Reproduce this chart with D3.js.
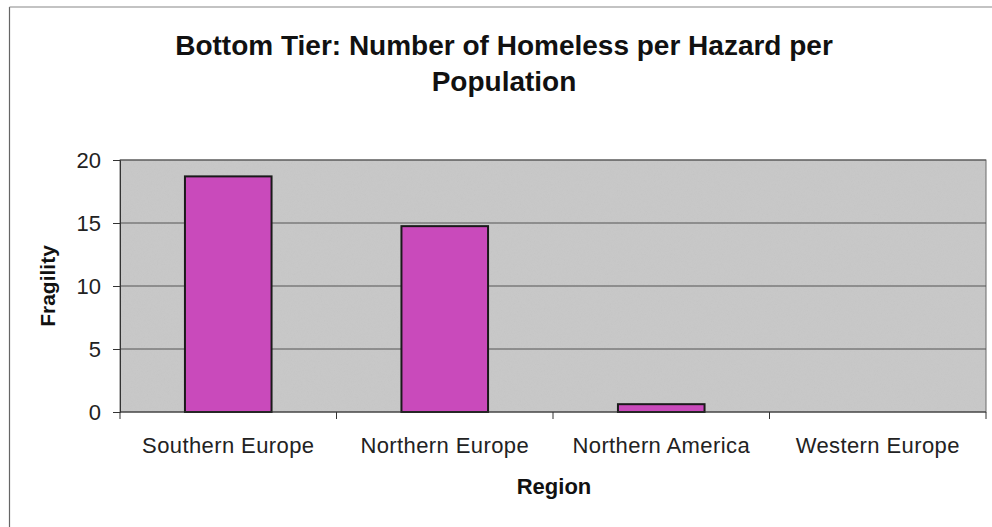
<!DOCTYPE html>
<html>
<head>
<meta charset="utf-8">
<script src="https://cdn.jsdelivr.net/npm/d3@7"></script>
<style>
  body { margin: 0; background: #fff; }
  svg { display: block; font-family: "Liberation Sans", Arial, sans-serif; }
</style>
</head>
<body>
<svg id="chart" width="992" height="527"></svg>
<script>
// data
var regions = ["Southern Europe", "Northern Europe", "Northern America", "Western Europe"];
var fragility = [18.7, 14.75, 0.62, 0];
var yTicks = [0, 5, 10, 15, 20];
var titleLines = ["Bottom Tier: Number of Homeless per Hazard per", "Population"];

var svg = d3.select('#chart');
var margin = { left: 120, top: 160, right: 6, bottom: 115 };
var W = 992, H = 527;
var plotW = W - margin.left - margin.right;
var plotH = H - margin.top - margin.bottom;

// grainy grey fill like the scanned excel plot area
var defs = svg.append('defs');
var f = defs.append('filter').attr('id', 'grain')
    .attr('x', 0).attr('y', 0).attr('width', 1).attr('height', 1);
f.append('feTurbulence').attr('type', 'fractalNoise')
    .attr('baseFrequency', 1.3).attr('numOctaves', 1).attr('seed', 3).attr('result', 'n');
f.append('feColorMatrix').attr('in', 'n').attr('type', 'matrix')
    .attr('values', '0 0 0 0 0.55  0 0 0 0 0.55  0 0 0 0 0.55  1.6 0 0 0 -0.65').attr('result', 'g');
f.append('feComposite').attr('in', 'g').attr('in2', 'SourceGraphic').attr('operator', 'atop');

// outer chart border (only left and top show in the scan)
svg.append('line').attr('x1', 9.5).attr('x2', 9.5).attr('y1', 7).attr('y2', H)
    .attr('stroke', '#666').attr('stroke-width', 1.2);
svg.append('line').attr('x1', 9.5).attr('x2', W).attr('y1', 7).attr('y2', 7)
    .attr('stroke', '#888').attr('stroke-width', 1.2);

var g = svg.append('g').attr('transform', 'translate(' + margin.left + ',' + margin.top + ')');

var x = d3.scaleBand().domain(regions).range([0, plotW]).paddingInner(0.6).paddingOuter(0.3);
var xTick = d3.scaleBand().domain(regions).range([0, plotW]);
var y = d3.scaleLinear().domain([0, 20]).range([plotH, 0]);

g.append('rect').attr('width', plotW).attr('height', plotH)
    .attr('fill', '#c8c8c8').attr('filter', 'url(#grain)');
g.append('rect').attr('width', plotW).attr('height', plotH)
    .attr('fill', 'none').attr('stroke', '#6a6a6a').attr('stroke-width', 1);

// gridlines
g.selectAll('.grid').data(yTicks.filter(function (d) { return d > 0; }))
    .enter().append('line').attr('class', 'grid')
    .attr('x1', 0).attr('x2', plotW)
    .attr('y1', function (d) { return y(d); }).attr('y2', function (d) { return y(d); })
    .attr('stroke', '#555').attr('stroke-width', 1);

// bars
g.selectAll('.bar').data(fragility).enter().append('rect').attr('class', 'bar')
    .attr('x', function (d, i) { return x(regions[i]); })
    .attr('width', x.bandwidth())
    .attr('y', function (d) { return y(d); })
    .attr('height', function (d) { return plotH - y(d); })
    .attr('fill', function (d) { return d > 0 ? '#c94abb' : 'none'; })
    .attr('stroke', function (d) { return d > 0 ? '#1a1a1a' : 'none'; })
    .attr('stroke-width', 2);

// y axis
var yAxis = g.append('g').call(d3.axisLeft(y).tickValues(yTicks).tickSize(7).tickPadding(12));
yAxis.select('.domain').attr('stroke', '#333');
yAxis.selectAll('.tick line').attr('stroke', '#333');
yAxis.selectAll('text').attr('font-size', 22).attr('fill', '#222')
    .attr('font-family', '"Liberation Sans", Arial, sans-serif');

// x axis with ticks between categories
var xAxis = g.append('g').attr('transform', 'translate(0,' + plotH + ')');
xAxis.append('line').attr('x1', 0).attr('x2', plotW).attr('stroke', '#333');
var bounds = [0].concat(regions.map(function (r) { return xTick(r) + xTick.bandwidth(); }));
xAxis.selectAll('.xt').data(bounds).enter().append('line')
    .attr('x1', function (d) { return d; }).attr('x2', function (d) { return d; })
    .attr('y1', 0).attr('y2', 7).attr('stroke', '#333');
xAxis.selectAll('.xl').data(regions).enter().append('text')
    .attr('x', function (d) { return xTick(d) + xTick.bandwidth() / 2; })
    .attr('y', 41).attr('text-anchor', 'middle')
    .attr('font-size', 22).attr('letter-spacing', 0.4).attr('fill', '#222')
    .text(function (d) { return d; });

// axis titles
svg.append('text').attr('transform', 'translate(55,' + (margin.top + plotH / 2) + ') rotate(-90)')
    .attr('text-anchor', 'middle').attr('font-size', 21).attr('font-weight', 'bold').attr('fill', '#111')
    .text('Fragility');
svg.append('text').attr('x', 554).attr('y', 494)
    .attr('text-anchor', 'middle').attr('font-size', 22).attr('font-weight', 'bold').attr('fill', '#111')
    .text('Region');

// title
svg.append('g').selectAll('text').data(titleLines).enter().append('text')
    .attr('x', 504).attr('y', function (d, i) { return 55 + i * 36; })
    .attr('text-anchor', 'middle').attr('font-size', 28).attr('font-weight', 'bold').attr('fill', '#111')
    .text(function (d) { return d; });
</script>
</body>
</html>
